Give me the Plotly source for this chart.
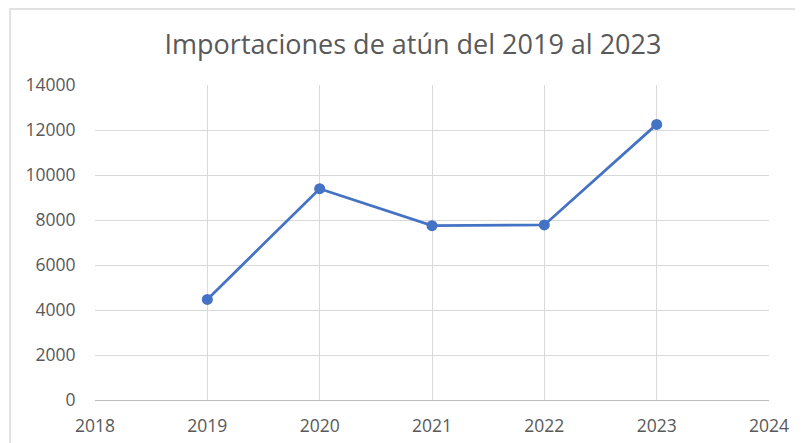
import plotly.graph_objects as go

years = [2019, 2020, 2021, 2022, 2023]
values = [4470, 9390, 7750, 7780, 12250]
title_text = "Importaciones de atún del 2019 al 2023"
x_ticks = [2018, 2019, 2020, 2021, 2022, 2023, 2024]
y_ticks = [0, 2000, 4000, 6000, 8000, 10000, 12000, 14000]

OFF = 8  # body margin of the html page
W, H = 803 - OFF, 443 - OFF
# plot area in window pixels: left 95, right 769, top 85, bottom 400
ml = 95 - OFF
mt = 85 - OFF
mr = W - (769 - OFF)
mb = H - (400 - OFF)
pw = W - ml - mr
ph = H - mt - mb

fig = go.Figure()
fig.add_trace(go.Scatter(
    x=years, y=values, mode="lines+markers",
    line=dict(color="#4472C4", width=2.75),
    marker=dict(color="#4472C4", size=11),
    showlegend=False, cliponaxis=False,
))

font_fam = "Open Sans, Noto Sans, sans-serif"
fig.update_layout(
    width=W, height=H,
    margin=dict(l=ml, r=mr, t=mt, b=mb, autoexpand=False),
    paper_bgcolor="white", plot_bgcolor="white",
    title=dict(text=title_text, x=(413 - OFF) / W, xanchor="center",
               y=1 - (45 - OFF) / H, yanchor="middle",
               font=dict(family=font_fam, size=27, color="#595959")),
    xaxis=dict(range=[2018, 2024], tickvals=x_ticks, ticktext=[str(v) for v in x_ticks],
               showgrid=True, gridcolor="#d9d9d9", gridwidth=1,
               showline=True, linecolor="#bfbfbf", linewidth=1,
               zeroline=False, ticks="outside", ticklen=10, tickcolor="rgba(0,0,0,0)",
               tickfont=dict(family=font_fam, size=17.5, color="#595959")),
    yaxis=dict(range=[0, 14000], tickvals=y_ticks, ticktext=[str(v) for v in y_ticks],
               showgrid=True, gridcolor="#d9d9d9", gridwidth=1,
               showline=False, zeroline=False,
               ticks="outside", ticklen=15, tickcolor="rgba(0,0,0,0)",
               tickfont=dict(family=font_fam, size=17.5, color="#595959")),
    font=dict(family=font_fam),
)

# outer chart border (left and top visible)
x0 = (10 - 95) / pw
y1 = (400 - 9) / ph
fig.add_shape(type="rect", xref="paper", yref="paper",
              x0=x0, x1=(W + 40 - ml) / pw, y0=-(H) / ph, y1=y1,
              line=dict(color="#d9d9d9", width=1.5), layer="below")

fig.write_html("out.html")
